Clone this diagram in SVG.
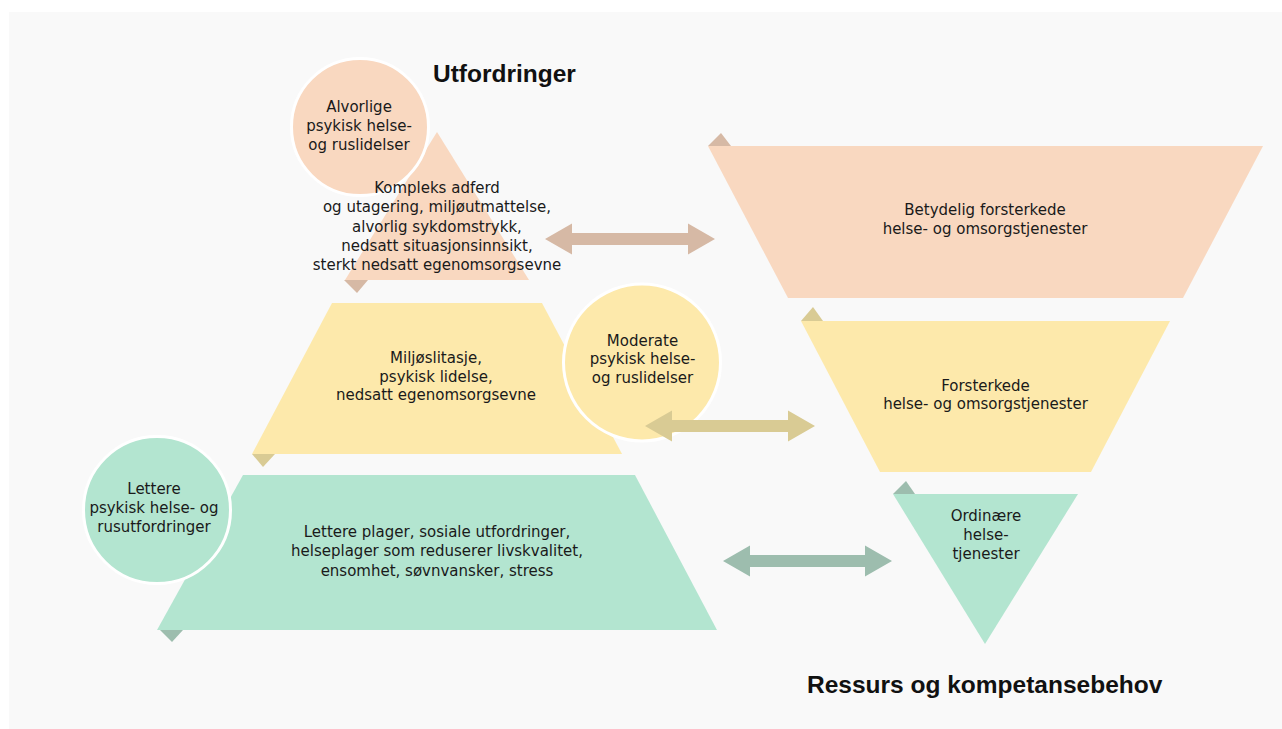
<svg xmlns="http://www.w3.org/2000/svg" width="1282" height="729" viewBox="0 0 1282 729">
<style>
.t{font-family:"DejaVu Sans",sans-serif;font-size:15px;fill:#1a1a1a;text-anchor:middle}
.h{font-family:"Liberation Sans",Arial,sans-serif;font-weight:bold;font-size:24.5px;fill:#111}
.pk{fill:#f9d8c0}.yl{fill:#fde9ab}.gr{fill:#b3e5d0}
.pkd{fill:#d6b9a5}.yld{fill:#d9cb94}.grd{fill:#9dbdae}
.c{stroke:#fff;stroke-width:3}
</style>
<rect x="0" y="0" width="1282" height="729" fill="#fff"/>
<rect x="9" y="12" width="1273" height="717" fill="#f9f9f9"/>
<text class="h" x="433" y="82">Utfordringer</text>
<text class="h" x="807" y="693">Ressurs og kompetansebehov</text>

<g id="node-kompleks">
<polygon class="pkd" points="344,280 368,280 357,293"/>
<polygon class="pk" points="437,132 529,280 345,280"/>
<g id="node-alvorlige">
<circle class="pk c" cx="360" cy="127" r="68.5"/>
<text class="t"><tspan x="359" y="111.5">Alvorlige</tspan><tspan x="359" y="130.5">psykisk helse-</tspan><tspan x="359" y="149.5">og ruslidelser</tspan></text>
</g>
<text class="t"><tspan x="437" y="193">Kompleks adferd</tspan><tspan x="437" y="212.3">og utagering, miljøutmattelse,</tspan><tspan x="437" y="231.6">alvorlig sykdomstrykk,</tspan><tspan x="437" y="250.9">nedsatt situasjonsinnsikt,</tspan><tspan x="437" y="270.2">sterkt nedsatt egenomsorgsevne</tspan></text>
</g>

<g id="node-miljo">
<polygon class="yld" points="252,454 275,454 263,467"/>
<polygon class="yl" points="332,303 542,303 622,454 252,454"/>
<text class="t"><tspan x="436" y="363">Miljøslitasje,</tspan><tspan x="436" y="381.5">psykisk lidelse,</tspan><tspan x="436" y="400">nedsatt egenomsorgsevne</tspan></text>
</g>
<g id="node-moderate">
<circle class="yl c" cx="642" cy="362.5" r="78.5"/>
<text class="t"><tspan x="642.5" y="345.5">Moderate</tspan><tspan x="642.5" y="364">psykisk helse-</tspan><tspan x="642.5" y="382.5">og ruslidelser</tspan></text>
</g>

<g id="node-lettere-plager">
<polygon class="grd" points="160,630 183,630 172,642"/>
<polygon class="gr" points="243,475 635,475 717,630 157,630"/>
<text class="t"><tspan x="437" y="536.5">Lettere plager, sosiale utfordringer,</tspan><tspan x="437" y="556">helseplager som reduserer livskvalitet,</tspan><tspan x="437" y="575.5">ensomhet, søvnvansker, stress</tspan></text>
</g>
<g id="node-lettere">
<circle class="gr c" cx="157" cy="510" r="73.5"/>
<text class="t"><tspan x="154" y="493.5">Lettere</tspan><tspan x="154" y="512.5">psykisk helse- og</tspan><tspan x="154" y="531.5">rusutfordringer</tspan></text>
</g>

<g id="node-betydelig">
<polygon class="pkd" points="708,146 721,133 731,146"/>
<polygon class="pk" points="708,146 1263,146 1183,298 788,298"/>
<text class="t"><tspan x="985" y="215">Betydelig forsterkede</tspan><tspan x="985" y="233.5">helse- og omsorgstjenester</tspan></text>
</g>
<g id="node-forsterkede">
<polygon class="yld" points="801,321 813,307 823,321"/>
<polygon class="yl" points="801,321 1170,321 1091,472 880,472"/>
<text class="t"><tspan x="985.5" y="390.5">Forsterkede</tspan><tspan x="985.5" y="409.3">helse- og omsorgstjenester</tspan></text>
</g>
<g id="node-ordinaere">
<polygon class="grd" points="893,494 906,481 915,494"/>
<polygon class="gr" points="893,494 1078,494 985,644"/>
<text class="t"><tspan x="986" y="520.5">Ordinære</tspan><tspan x="986" y="539.5">helse-</tspan><tspan x="986" y="558.5">tjenester</tspan></text>
</g>

<g id="connectors">
<polygon class="pkd" points="545,239 572,223.5 572,233 688,233 688,223.5 715,239 688,254.5 688,245 572,245 572,254.5"/>
<polygon class="yld" points="645,426 672,410.5 672,420 788,420 788,410.5 815,426 788,441.5 788,432 672,432 672,441.5"/>
<polygon class="grd" points="723,561 750,545.5 750,555 865,555 865,545.5 892,561 865,576.5 865,567 750,567 750,576.5"/>
</g>
</svg>
